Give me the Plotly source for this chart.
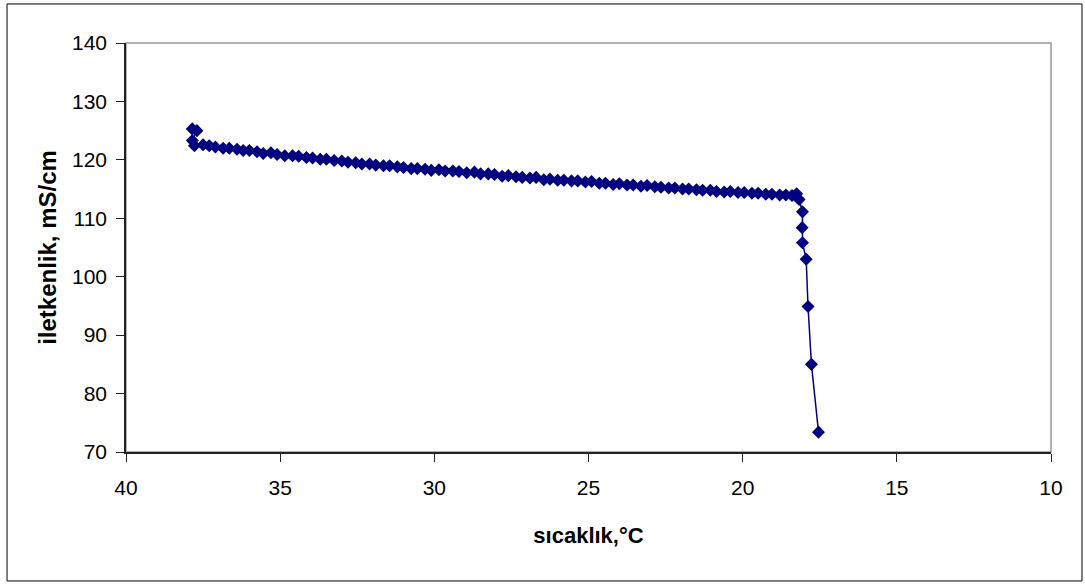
import plotly.graph_objects as go

# temperature (°C) and conductivity (mS/cm), in recording order
sicaklik = [37.85, 37.70, 37.85, 37.78, 37.50, 37.30, 37.10, 36.85, 36.65, 36.40,
            36.20, 36.00, 35.75, 35.55, 35.30, 35.10, 34.85, 34.60, 34.40, 34.15,
            33.95, 33.70, 33.50, 33.25, 33.00, 32.80, 32.55, 32.35, 32.10, 31.90,
            31.65, 31.45, 31.20, 31.00, 30.75, 30.55, 30.30, 30.10, 29.85, 29.65,
            29.40, 29.20, 28.95, 28.70, 28.50, 28.25, 28.05, 27.80, 27.60, 27.35,
            27.15, 26.90, 26.70, 26.45, 26.25, 26.00, 25.80, 25.55, 25.35, 25.10,
            24.90, 24.65, 24.45, 24.20, 24.00, 23.75, 23.55, 23.30, 23.10, 22.85,
            22.65, 22.40, 22.20, 21.95, 21.75, 21.50, 21.30, 21.05, 20.85, 20.60,
            20.40, 20.15, 19.95, 19.70, 19.50, 19.25, 19.05, 18.80, 18.60, 18.40,
            18.25, 18.17, 18.06, 18.07, 18.06, 17.94, 17.88, 17.77, 17.54]

iletkenlik = [125.3, 125.0, 123.3, 122.4, 122.6, 122.4, 122.2, 122.0, 122.0, 121.8,
              121.6, 121.6, 121.4, 121.1, 121.2, 120.9, 120.7, 120.7, 120.6, 120.4,
              120.3, 120.1, 120.1, 119.9, 119.8, 119.6, 119.5, 119.3, 119.3, 119.1,
              119.0, 119.0, 118.8, 118.7, 118.5, 118.5, 118.4, 118.2, 118.3, 118.1,
              118.1, 118.0, 117.8, 117.9, 117.6, 117.6, 117.5, 117.2, 117.3, 117.1,
              117.0, 116.9, 117.0, 116.6, 116.7, 116.5, 116.5, 116.4, 116.4, 116.2,
              116.3, 116.0, 116.0, 115.8, 115.9, 115.7, 115.7, 115.5, 115.6, 115.4,
              115.3, 115.2, 115.2, 115.0, 115.0, 114.9, 114.8, 114.8, 114.6, 114.5,
              114.6, 114.4, 114.4, 114.3, 114.3, 114.1, 114.1, 114.0, 114.0, 113.9,
              114.2, 113.2, 111.1, 108.4, 105.8, 103.0, 94.9, 85.0, 73.4]

x_ticks = [40, 35, 30, 25, 20, 15, 10]
y_ticks = [70, 80, 90, 100, 110, 120, 130, 140]

NAVY = "#000080"
FONT = "Liberation Sans, Arial, sans-serif"

fig = go.Figure()
fig.add_trace(go.Scatter(
    x=sicaklik, y=iletkenlik, mode="lines+markers",
    line=dict(color=NAVY, width=1.5),
    marker=dict(symbol="diamond", size=8.5, color=NAVY, line=dict(color=NAVY, width=1.4)),
    showlegend=False,
))

fig.update_layout(
    width=1085, height=585,
    margin=dict(l=126, r=34, t=43, b=133),
    paper_bgcolor="white", plot_bgcolor="white",
    font=dict(family=FONT, size=21, color="black"),
    xaxis=dict(
        range=[40, 10], tickvals=x_ticks, ticktext=[str(v) for v in x_ticks],
        showgrid=False, zeroline=False, showline=True, linecolor="#222", linewidth=1.5,
        ticks="outside", ticklen=8, tickcolor="#222", tickwidth=1,
        ticklabelstandoff=8,
        tickfont=dict(family=FONT, size=21, color="black"),
        title=dict(text="<b>sıcaklık,°C</b>", font=dict(family=FONT, size=22, color="black"),
                   standoff=30),
    ),
    yaxis=dict(
        range=[70, 140], tickvals=y_ticks, ticktext=[str(v) for v in y_ticks],
        showgrid=False, zeroline=False, showline=True, linecolor="#222", linewidth=1.5,
        ticks="outside", ticklen=8, tickcolor="#222", tickwidth=1,
        ticklabelstandoff=5,
        tickfont=dict(family=FONT, size=21, color="black"),
        title=dict(text="<b>iletkenlik, mS/cm</b>", font=dict(family=FONT, size=24, color="black"),
                   standoff=9),
    ),
    shapes=[
        # plot-area frame (gray top/right)
        dict(type="rect", xref="paper", yref="paper", x0=0, x1=1, y0=0, y1=1,
             line=dict(color="#999999", width=1.5), layer="below"),
        # outer chart border
        dict(type="rect", xref="paper", yref="paper", x0=-0.1286, x1=1.0335,
             y0=-0.3154, y1=1.0954, line=dict(color="black", width=1), layer="below"),
    ],
)

fig.write_html("out.html", config={"displayModeBar": False},
               post_script="document.body.style.margin='0';")
